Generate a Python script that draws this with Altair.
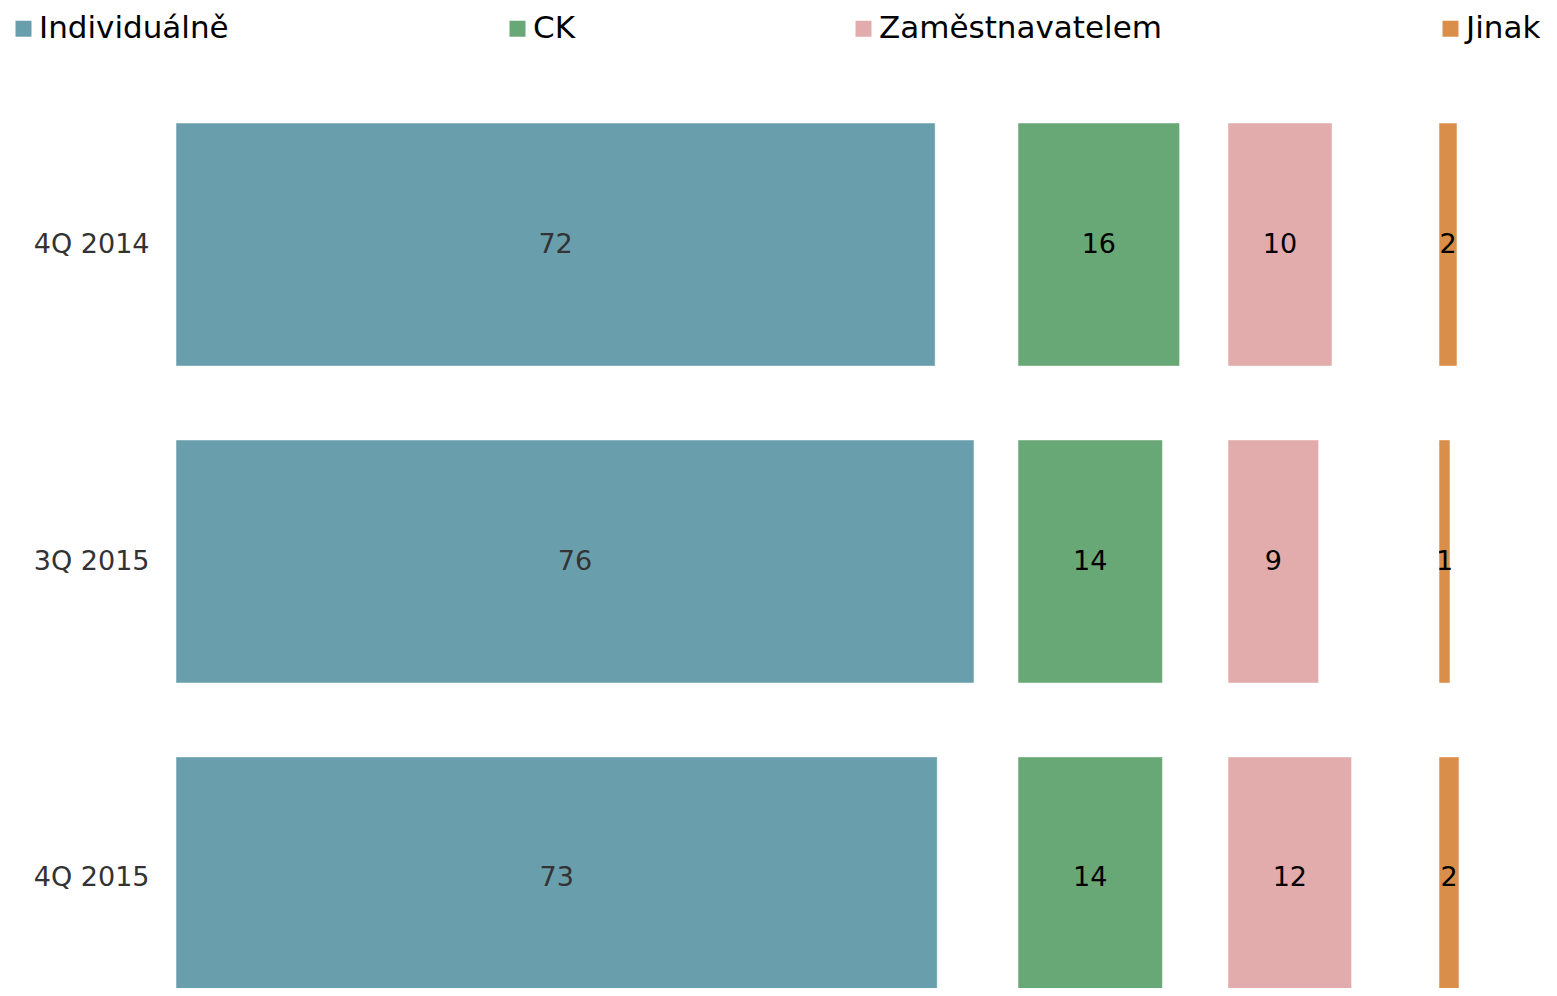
import altair as alt
import pandas as pd

periods = ["4Q 2014", "3Q 2015", "4Q 2015"]
categories = ["Individuálně", "CK", "Zaměstnavatelem", "Jinak"]
colors = ["#699fad", "#68a776", "#e1acab", "#d98f4a"]

individualne = [72.3, 76.0, 72.5]
ck = [16.0, 14.3, 14.3]
zamestnavatelem = [10.1, 8.8, 12.0]
jinak = [1.8, 1.1, 2.0]

labels_individualne = ["72", "76", "73"]
labels_ck = ["16", "14", "14"]
labels_zamestnavatelem = ["10", "9", "12"]
labels_jinak = ["2", "1", "2"]

series = [individualne, ck, zamestnavatelem, jinak]
series_labels = [labels_individualne, labels_ck, labels_zamestnavatelem, labels_jinak]

rows = []
for cat, vals, labs in zip(categories, series, series_labels):
    for p, v, l in zip(periods, vals, labs):
        rows.append({"period": p, "category": cat, "value": v, "label": l})
df = pd.DataFrame(rows)

FONT = "DejaVu Sans"
H = 902          # visible plot height (bottom bar is cut off as in the reference)
BAND_RANGE = 951  # full band range
panel_widths = [822, 190, 191, 100]
domain_max = [822 / 10.5, 190 / 10.1, 191 / 10.3, 100 / 10.0]
text_colors = ["#333333", "#000000", "#000000", "#000000"]

color_scale = alt.Scale(domain=categories, range=colors)
y_scale = alt.Scale(paddingInner=0.233, paddingOuter=0.1167, range=[0, BAND_RANGE])

panels = []
for i, cat in enumerate(categories):
    base = alt.Chart(df).transform_filter(alt.datum.category == cat)
    if i == 0:
        y_axis = alt.Axis(
            ticks=False,
            domain=False,
            labelFont=FONT,
            labelFontSize=27,
            labelColor="#333333",
            labelPadding=27,
            minExtent=141,
            maxExtent=141,
            grid=False,
        )
    else:
        y_axis = None
    y_enc = alt.Y("period:N", sort=periods, title=None, scale=y_scale, axis=y_axis)
    x_enc = alt.X(
        "value:Q",
        axis=None,
        scale=alt.Scale(domain=[0, domain_max[i]], nice=False, zero=True),
    )
    bars = base.mark_bar(
        stroke="#ffffff", strokeOpacity=0.5, strokeWidth=1, clip=True
    ).encode(
        y=y_enc,
        x=x_enc,
        color=alt.Color(
            "category:N",
            scale=color_scale,
            legend=alt.Legend(
                title=None,
                orient="none",
                direction="horizontal",
                columns=4,
                legendX=-168,
                legendY=-73,
                symbolType="square",
                symbolSize=256,
                symbolStrokeWidth=0,
                labelFont=FONT,
                labelFontSize=31,
                labelColor="#000000",
                labelOffset=0,
                labelLimit=400,
                columnPadding=273,
                padding=0,
            ),
        ),
    )
    texts = base.transform_calculate(mid="datum.value / 2").mark_text(
        font=FONT, fontSize=27, color=text_colors[i], baseline="middle",
        align="center", clip=True
    ).encode(
        y=alt.Y("period:N", sort=periods),
        x=alt.X("mid:Q"),
        text="label:N",
    )
    panels.append(
        alt.layer(bars, texts).properties(width=panel_widths[i], height=H)
    )

chart = (
    alt.hconcat(*panels, spacing=20)
    .resolve_scale(x="independent")
    .properties(padding={"left": 0, "top": 5, "right": 0, "bottom": 0})
    .configure(background="#ffffff")
    .configure_view(stroke="transparent", strokeWidth=0)
)

chart.save("out.html", embed_options={"renderer": "svg", "actions": False})
